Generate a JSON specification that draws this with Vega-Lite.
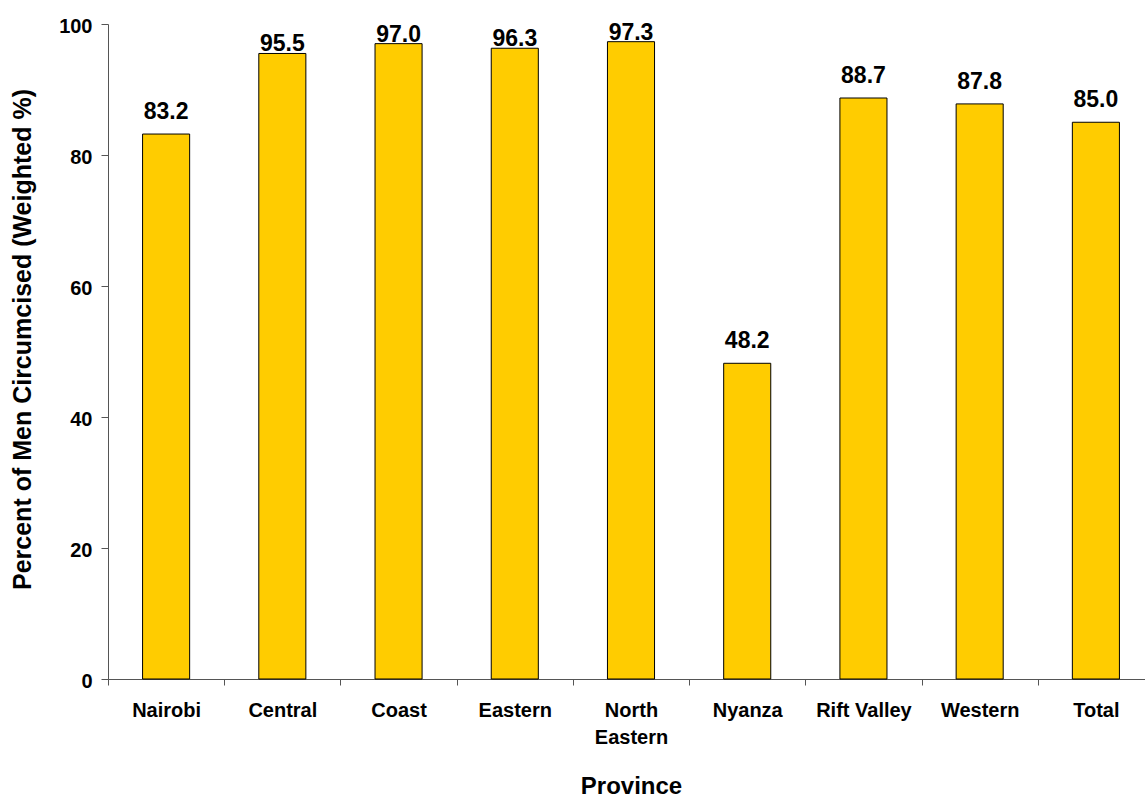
{
  "$schema": "https://vega.github.io/schema/vega-lite/v6.json",
  "width": 1037,
  "height": 655,
  "autosize": {"type": "none"},
  "padding": {"left": 108, "top": 24, "right": 0, "bottom": 117},
  "background": "white",
  "config": {
    "view": {"stroke": null},
    "font": "Liberation Sans",
    "axis": {"labelColor": "#000", "titleColor": "#000", "domainColor": "#555", "tickColor": "#555", "grid": false}
  },
  "data": {
    "values": [
      {"province": "Nairobi", "value": 83.2},
      {"province": "Central", "value": 95.5},
      {"province": "Coast", "value": 97.0},
      {"province": "Eastern", "value": 96.3},
      {"province": "North Eastern", "value": 97.3},
      {"province": "Nyanza", "value": 48.2},
      {"province": "Rift Valley", "value": 88.7},
      {"province": "Western", "value": 87.8},
      {"province": "Total", "value": 85.0}
    ]
  },
  "encoding": {
    "x": {
      "field": "province",
      "type": "nominal",
      "sort": null,
      "scale": {"paddingInner": 0, "paddingOuter": 0, "range": [0, 1046]},
      "axis": {
        "title": "Province",
        "labelAngle": 0,
        "tickBand": "extent",
        "tickSize": 6,
        "labelPadding": 15,
        "labelFontSize": 20,
        "labelFontWeight": "bold",
        "labelOverlap": false,
        "labelExpr": "datum.label == 'North Eastern' ? ['North', 'Eastern'] : datum.label",
        "labelLineHeight": 27,
        "titleFontSize": 24,
        "titleFontWeight": "bold",
        "titleX": 523,
        "titleY": 114,
        "titleBaseline": "alphabetic",
        "titleAlign": "center"
      }
    }
  },
  "layer": [
    {
      "mark": {"type": "bar", "fill": "#FFCC00", "stroke": "#000", "strokeWidth": 1, "width": {"band": 0.405}},
      "encoding": {
        "y": {
          "field": "value",
          "type": "quantitative",
          "scale": {"domain": [0, 100], "nice": false},
          "axis": {
            "title": "Percent of Men Circumcised (Weighted %)",
            "values": [0, 20, 40, 60, 80, 100],
            "tickSize": 7,
            "labelPadding": 9,
            "labelFontSize": 20,
            "labelFontWeight": "bold",
            "labelOffset": 2,
            "titleFontSize": 25,
            "titleFontWeight": "bold",
            "titleAngle": -90,
            "titleX": -78,
            "titleY": 315,
            "titleBaseline": "alphabetic",
            "titleAlign": "center"
          }
        }
      }
    },
    {
      "transform": [{"filter": "datum.value < 90"}],
      "mark": {"type": "text", "dy": -15, "baseline": "alphabetic", "fontSize": 23, "fontWeight": "bold", "color": "#000"},
      "encoding": {
        "y": {"field": "value", "type": "quantitative"},
        "text": {"field": "value", "type": "quantitative", "format": ".1f"}
      }
    },
    {
      "transform": [{"filter": "datum.value >= 90"}],
      "mark": {"type": "text", "dy": -2, "baseline": "alphabetic", "fontSize": 23, "fontWeight": "bold", "color": "#000"},
      "encoding": {
        "y": {"field": "value", "type": "quantitative"},
        "text": {"field": "value", "type": "quantitative", "format": ".1f"}
      }
    }
  ]
}
